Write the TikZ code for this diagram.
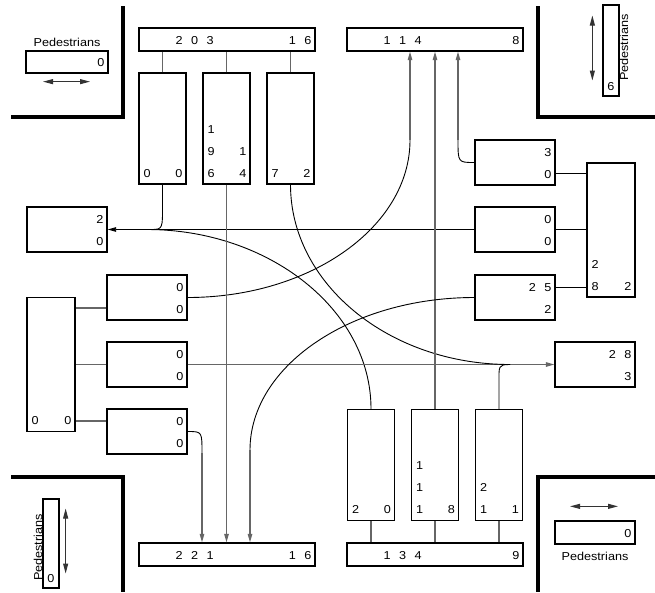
\documentclass[tikz,border=0pt]{standalone}
\usepackage{fontspec}
\setmainfont{Liberation Sans}[FakeStretch=1.1]
\usetikzlibrary{arrows.meta}
\definecolor{lanegray}{gray}{0.4}
\newcommand{\gp}{\hspace{8.5pt}}

\begin{document}
\begin{tikzpicture}[x=1pt, y=-1pt,
    font=\fontsize{11.5}{22}\selectfont,
    >={Triangle[length=8.5pt,width=4.5pt]},
    box/.style={draw, line width=1.3pt, inner sep=0pt},
    cell/.style={box, minimum width=80pt, minimum height=45pt},
    lanebox/.style={box, minimum width=47pt, minimum height=111pt},
    tallbox/.style={box, minimum width=48pt, minimum height=134pt},
    bar/.style={box, minimum width=176pt, minimum height=23pt},
    num/.style={inner sep=0pt, text depth=0pt, align=left},
    bl/.style={label={[num, anchor=south west, xshift=5pt, yshift=7pt]south west:#1}},
    br/.style={label={[num, align=right, anchor=south east, xshift=-4pt, yshift=7pt]south east:#1}},
    lt/.style={label={[num, anchor=south west, xshift=37pt, yshift=7pt]south west:#1}},
    bc/.style={label={[num, anchor=south, yshift=6pt]south:#1}},
    wall/.style={line width=3.5pt},
    feed/.style={lanegray, line width=1.2pt},
    turn/.style={black, line width=0.9pt},
    ped/.style={black!80, line width=1pt, {Triangle[length=10pt,width=5pt]}-{Triangle[length=10pt,width=5pt]}}]
  \useasboundingbox (0,0) rectangle (655,592);

  % corners of the crossing
  \draw[wall] (123,6) -- (123,117) -- (11,117);
  \draw[wall] (538,6) -- (538,117) -- (655,117);
  \draw[wall] (11,477) -- (123,477) -- (123,592);
  \draw[wall] (655,477) -- (538,477) -- (538,592);

  % pedestrian crossings
  \node[box, minimum width=82pt, minimum height=22pt, br=0,
    label={[inner sep=0pt, label distance=4pt]above:Pedestrians}] (pedNW) at (67,62) {};
  \node[box, minimum width=80pt, minimum height=23pt, br=0,
    label={[inner sep=0pt, label distance=7pt]below:Pedestrians}] (pedSE) at (595,532.5) {};
  \node[box, minimum width=16pt, minimum height=91pt, bc=6,
    label={[rotate=90, anchor=north, inner sep=0pt, label distance=3pt]east:Pedestrians}] (pedNE) at (611,50.5) {};
  \node[box, minimum width=16pt, minimum height=89pt, bc=0,
    label={[rotate=90, anchor=south, inner sep=0pt, label distance=4pt]west:Pedestrians}] (pedSW) at (51,543.5) {};
  \draw[ped] ([xshift=-24pt,yshift=-8pt]pedNW.south) -- ([xshift=23pt,yshift=-8pt]pedNW.south);
  \draw[ped] ([xshift=-25pt,yshift=14pt]pedSE.north) -- ([xshift=23pt,yshift=14pt]pedSE.north);
  \draw[ped] ([xshift=-10pt,yshift=35pt]pedNE.west) -- ([xshift=-10pt,yshift=-30pt]pedNE.west);
  \draw[ped] ([xshift=6pt,yshift=35pt]pedSW.east) -- ([xshift=6pt,yshift=-30pt]pedSW.east);

  % exit bars
  \node[bar, lt={2\gp0\gp3}, br={1\gp6}] (N1) at (227,39.5) {};
  \node[bar, lt={1\gp1\gp4}, br=8] (N2) at (435,39.5) {};
  \node[bar, lt={2\gp2\gp1}, br={1\gp6}] (S1) at (227,554.5) {};
  \node[bar, lt={1\gp3\gp4}, br=9] (S2) at (435,554.5) {};

  % north approach lanes
  \node[lanebox, bl=0, br=0] (A) at (162.5,128.5) {};
  \node[lanebox, bl={1\\9\\6}, br={1\\4}] (B) at (226.5,128.5) {};
  \node[lanebox, bl=7, br=2] (C) at (290.5,128.5) {};
  % south approach lanes
  \node[lanebox, bl=2, br=0] (D) at (371,465) {};
  \node[lanebox, bl={1\\1\\1}, br=8] (E) at (435,465) {};
  \node[lanebox, bl={2\\1}, br=1] (F) at (499,465) {};
  % east approach
  \node[tallbox, bl={2\\8}, br=2] (Etall) at (611,230) {};
  \node[cell, br={3\\0}] (E1) at (515,162.5) {};
  \node[cell, br={0\\0}] (E2) at (515,229.5) {};
  \node[cell, br={2\gp5\\2}] (E3) at (515,297.5) {};
  \node[cell, br={2\gp8\\3}] (Eout) at (595,364.5) {};
  % west approach
  \node[tallbox, bl=0, br=0] (Wtall) at (51,364.5) {};
  \node[cell, br={2\\0}] (Wout) at (67,229.5) {};
  \node[cell, br={0\\0}] (W1) at (147,297.5) {};
  \node[cell, br={0\\0}] (W2) at (147,364.5) {};
  \node[cell, br={0\\0}] (W3) at (147,431.5) {};

  % feeders
  \foreach \l in {A,B,C} \draw[feed] (\l.north) -- (\l.north |- N1.south);
  \foreach \l in {D,E,F} \draw[feed] (\l.south) -- (\l.south |- S2.north);
  \coordinate (e1r) at ([yshift=-10.5pt]E1.east);
  \coordinate (e3r) at ([yshift=10.5pt]E3.east);
  \draw[turn] (e1r) -- (e1r -| Etall.west);
  \draw[turn] (E2.east) -- (E2.east -| Etall.west);
  \draw[turn] (e3r) -- (e3r -| Etall.west);
  \coordinate (w1l) at ([yshift=-10.5pt]W1.west);
  \coordinate (w3l) at ([yshift=10.5pt]W3.west);
  \draw[feed] (w1l) -- (w1l -| Wtall.east);
  \draw[feed] (W2.west) -- (W2.west -| Wtall.east);
  \draw[feed] (w3l) -- (w3l -| Wtall.east);

  % movements
  \coordinate (n2a) at (410,140);
  \coordinate (n2c) at (458,140);
  \coordinate (s1a) at (202,453);
  \coordinate (s1c) at (250,450);
  \coordinate (wjoin) at (147,229.5);
  \coordinate (ejoin) at (510,364.5);

  \draw[turn, ->] (E2.west) -- (Wout.east);
  \draw[turn] (A.south) -- ++(0,28) .. controls +(0,18) and +(14,0) .. (wjoin);
  \draw[turn] (D.north) .. controls (371,310) and (269,229.5) .. (wjoin);

  \draw[feed, ->] (W2.east) -- (Eout.west);
  \draw[turn] (C.south) .. controls (290.5,283.6) and (389,364.5) .. (ejoin);
  \draw[turn] (F.north) -- ++(0,-26) .. controls +(0,-17) and +(-12,0) .. (ejoin);

  \draw[turn] (W1.east) .. controls (310,297.5) and (410,227) .. (n2a);
  \draw[feed, ->] (n2a) -- (n2a |- N2.south);
  \draw[feed, ->] (E.north) -- (E.north |- N2.south);
  \draw[turn] (n2c) .. controls (458,162.5) .. (E1.west);
  \draw[feed, ->] (n2c) -- (n2c |- N2.south);

  \draw[turn] (W3.east) .. controls (202,431.5) .. (s1a);
  \draw[feed, ->] (s1a) -- (s1a |- S1.north);
  \draw[feed, ->] (B.south) -- (B.south |- S1.north);
  \draw[turn] (E3.west) .. controls (351,297.5) and (250,366) .. (s1c);
  \draw[feed, ->] (s1c) -- (s1c |- S1.north);
\end{tikzpicture}
\end{document}
